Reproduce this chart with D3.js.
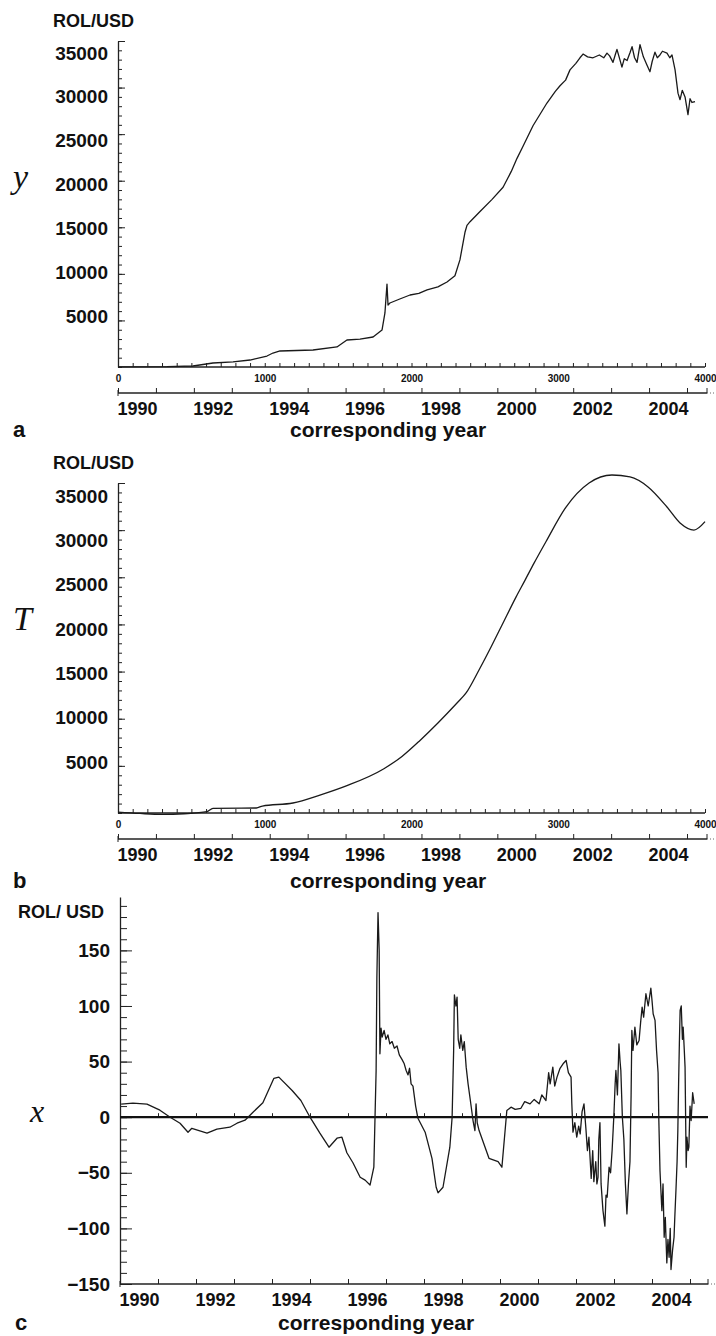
<!DOCTYPE html>
<html>
<head>
<meta charset="utf-8">
<script src="https://cdn.jsdelivr.net/npm/d3@7"></script>
<style>
  body { margin: 0; background: #fff; }
  svg text { font-family: "Liberation Sans", Arial, sans-serif; font-weight: bold; fill: #111; }
  svg text.math { font-family: "Liberation Serif", "Times New Roman", serif; font-style: italic; font-weight: normal; }
</style>
</head>
<body>
<svg id="chart" width="716" height="1336"></svg>
<script>
// ---- data ----
// panel a: observed ROL/USD rate y, x = observation index
var idxA = [0, 334, 511, 647, 784, 900, 1015, 1056, 1104, 1329, 1492, 1560, 1649, 1738, 1799, 1819, 1833, 1840, 1853, 1920, 1990, 2050, 2106, 2180, 2242, 2296, 2330, 2365, 2378, 2399, 2467, 2549, 2624, 2680, 2719, 2760, 2828, 2923, 2980, 3012, 3050, 3080, 3120, 3148, 3169, 3200, 3237, 3280, 3310, 3332, 3350, 3373, 3390, 3400, 3420, 3434, 3450, 3469, 3490, 3503, 3520, 3537, 3557, 3580, 3605, 3625, 3640, 3659, 3675, 3693, 3710, 3741, 3760, 3775, 3796, 3816, 3830, 3845, 3864, 3884, 3898, 3911, 3932];
var valA = [20, 30, 107, 430, 540, 750, 1180, 1500, 1720, 1825, 2150, 2900, 3000, 3220, 3970, 5800, 8900, 6650, 6870, 7300, 7730, 7900, 8270, 8600, 9130, 9800, 11500, 14500, 15200, 15600, 16700, 18000, 19300, 21000, 22400, 23700, 25900, 28340, 29600, 30200, 30800, 31900, 32600, 33200, 33600, 33300, 33200, 33500, 33200, 33700, 33400, 32700, 33600, 34100, 33000, 32200, 33100, 32900, 33800, 34400, 33200, 32700, 34600, 33300, 32400, 31700, 32800, 33800, 33200, 33500, 33900, 33700, 33200, 33500, 31900, 29400, 28700, 29700, 29000, 27100, 28800, 28400, 28500];

// panel b: trend T
var idxB = [0, 150, 300, 450, 606, 647, 943, 984, 1192, 1376, 1560, 1812, 1935, 2058, 2180, 2310, 2372, 2460, 2542, 2617, 2712, 2774, 2835, 2917, 3053, 3210, 3366, 3489, 3612, 3741, 3830, 3925, 4000];
var valB = [100, -50, -150, -80, 140, 500, 530, 740, 1060, 1900, 2900, 4700, 6000, 7700, 9550, 11670, 12730, 15170, 17610, 19940, 22900, 24700, 26500, 28800, 32450, 35000, 35850, 35640, 34580, 32450, 30760, 30010, 30900];

// panel c: fluctuation x = y - T, against year
var yearC = [1990.03, 1990.34, 1990.71, 1991.05, 1991.32, 1991.58, 1991.79, 1991.89, 1992.29, 1992.55, 1992.89, 1993.08, 1993.29, 1993.5, 1993.76, 1994.05, 1994.18, 1994.53, 1994.76, 1995.0, 1995.26, 1995.5, 1995.71, 1995.84, 1995.97, 1996.13, 1996.32, 1996.45, 1996.58, 1996.68, 1996.74, 1996.76, 1996.79, 1996.82, 1996.84, 1996.87, 1996.9, 1996.95, 1997.0, 1997.05, 1997.1, 1997.16, 1997.22, 1997.29, 1997.35, 1997.42, 1997.48, 1997.53, 1997.58, 1997.62, 1997.66, 1997.71, 1997.78, 1997.84, 1998.03, 1998.21, 1998.32, 1998.37, 1998.5, 1998.68, 1998.74, 1998.78, 1998.8, 1998.84, 1998.87, 1998.9, 1998.94, 1998.97, 1999.02, 1999.06, 1999.11, 1999.16, 1999.22, 1999.29, 1999.34, 1999.37, 1999.4, 1999.45, 1999.71, 1999.95, 2000.05, 2000.18, 2000.29, 2000.4, 2000.55, 2000.65, 2000.79, 2000.9, 2001.03, 2001.1, 2001.21, 2001.28, 2001.32, 2001.39, 2001.44, 2001.5, 2001.58, 2001.66, 2001.74, 2001.8, 2001.87, 2001.89, 2001.92, 2001.97, 2002.02, 2002.07, 2002.11, 2002.16, 2002.21, 2002.26, 2002.3, 2002.34, 2002.4, 2002.44, 2002.47, 2002.52, 2002.55, 2002.58, 2002.6, 2002.63, 2002.66, 2002.71, 2002.76, 2002.79, 2002.82, 2002.87, 2002.91, 2002.95, 2002.98, 2003.0, 2003.03, 2003.05, 2003.09, 2003.13, 2003.16, 2003.18, 2003.22, 2003.26, 2003.3, 2003.34, 2003.38, 2003.42, 2003.45, 2003.47, 2003.5, 2003.55, 2003.6, 2003.66, 2003.7, 2003.74, 2003.78, 2003.84, 2003.9, 2003.97, 2004.0, 2004.03, 2004.08, 2004.12, 2004.16, 2004.18, 2004.21, 2004.24, 2004.26, 2004.29, 2004.32, 2004.35, 2004.39, 2004.42, 2004.45, 2004.48, 2004.5, 2004.54, 2004.58, 2004.6, 2004.63, 2004.66, 2004.68, 2004.7, 2004.72, 2004.74, 2004.77, 2004.8, 2004.82, 2004.85, 2004.87, 2004.9, 2004.92, 2004.95, 2004.97, 2005.0, 2005.03, 2005.07, 2005.11];
var valC = [11.7, 12.6, 11.7, 6.3, 0, -5.4, -13.5, -10, -14.4, -10.8, -9, -5.4, -2.7, 4.5, 13, 35, 36, 24, 15, 0, -14.4, -27, -18.9, -18, -32, -41, -54, -56.6, -61, -45, 42, 126, 184, 150, 57, 80, 72, 78, 70, 74, 66, 68, 62, 64, 56, 52, 48, 42, 38, 44, 30, 28, 10, -1, -13.5, -37, -63, -68, -63, -27, 0, 60, 110, 100, 108, 70, 62, 74, 60, 68, 45, 30, 15, -3, -12, 12, -5, -12, -37, -40, -45, 6, 9, 7, 8, 14, 12, 16, 12, 20, 15, 40, 30, 45, 28, 36, 44, 48, 51, 40, 36, 12, -13.5, -5, -18, -8, -15, 5, 12, -10, -30, -18, -55, -30, -58, -40, -60, -54, -20, -5, -60, -84, -98, -70, -72, -45, -50, -30, -10, 4, 30, 42, 20, 66, 50, 42, 0, -20, -60, -87, -60, -40, 20, 78, 60, 81, 65, 69, 85, 99, 90, 111, 100, 116, 105, 93, 87, 60, 40, -3, -48, -70, -84, -60, -108, -90, -131, -110, -126, -100, -137, -120, -108, -90, -66, -40, -12, 30, 66, 96, 100, 70, 81, 60, 45, -45, -18, -30, -27, 10, -3, 22, 12];

// axis ticks / labels
var yearTicks = d3.range(1990, 2006);
var yearLabels = [1990, 1992, 1994, 1996, 1998, 2000, 2002, 2004];
var idxMinor = d3.range(0, 4001, 100);
var idxLabels = [0, 1000, 2000, 3000, 4000];
var rolMinor = d3.range(0, 35001, 1000);
var rolMajor = [5000, 10000, 15000, 20000, 25000, 30000, 35000];
var xMinor = d3.range(-150, 191, 10);
var xMajor = [-150, -100, -50, 0, 50, 100, 150];

var svg = d3.select('#chart');

function cleanAxis(g) {
  g.attr('font-family', null).attr('font-size', null);
  g.selectAll('line').attr('stroke', '#222');
  g.select('.domain').attr('stroke', '#222');
}

// year axis with ticks up, labels centred in each year, dotted tail
function yearAxis(xs, y, xEnd) {
  var g = svg.append('g').attr('transform', 'translate(0,' + y + ')')
    .call(d3.axisTop(xs).tickValues(yearTicks).tickSize(5).tickFormat(''));
  g.select('.domain').remove();
  cleanAxis(g);
  g.append('line').attr('x1', xs(1990)).attr('x2', xEnd).attr('stroke', '#222').attr('stroke-width', 1.5);
  g.append('line').attr('x1', xs(1990)).attr('x2', xs(1990)).attr('y1', -3).attr('y2', 3).attr('stroke', '#222');
  g.append('line').attr('x1', xEnd).attr('x2', xEnd).attr('y1', -5).attr('y2', 0).attr('stroke', '#222');
  g.append('line').attr('x1', xEnd).attr('x2', 716).attr('stroke', '#666').attr('stroke-dasharray', '1,2');
  var lab = svg.append('g').attr('transform', 'translate(0,' + y + ')')
    .call(d3.axisBottom(xs).tickValues(yearLabels.map(function(d) { return d + 0.5; }))
      .tickSize(0).tickPadding(9).tickFormat(function(d) { return Math.floor(d); }));
  lab.select('.domain').remove();
  cleanAxis(lab);
  lab.selectAll('text').style('font-size', '18px');
}

function rolPanel(top, bottom, lblTop, lblBottom, idx, vals, curve, letter, math, mathY, letterY) {
  var xi = d3.scaleLinear().domain([0, 4000]).range([118, 705]);
  var xy = d3.scaleLinear().domain([1990, 2005]).range([118, 687]);
  var ys = d3.scaleLinear().domain([0, 35000]).range([bottom, top]);
  // labels sit on their own (slightly tighter) scale, as in the scanned figure
  var yl = d3.scaleLinear().domain([5000, 35000]).range([lblBottom, lblTop]);

  svg.append('text').attr('x', 53).attr('y', top - 14).style('font-size', '18px').text('ROL/USD');

  var gMin = svg.append('g').attr('transform', 'translate(118,0)')
    .call(d3.axisRight(ys).tickValues(rolMinor).tickSize(4).tickSizeOuter(0).tickFormat(''));
  cleanAxis(gMin);
  gMin.select('.domain').attr('stroke-width', 1.3);
  var gMaj = svg.append('g').attr('transform', 'translate(118,0)')
    .call(d3.axisRight(ys).tickValues(rolMajor).tickSize(7).tickFormat(''));
  gMaj.select('.domain').remove();
  cleanAxis(gMaj);
  var gLab = svg.append('g').attr('transform', 'translate(118,0)')
    .call(d3.axisLeft(yl).tickValues(rolMajor).tickSize(0).tickPadding(10).tickFormat(d3.format('d')));
  gLab.select('.domain').remove();
  cleanAxis(gLab);
  gLab.selectAll('text').style('font-size', '19px');

  // observation index axis
  var gi = svg.append('g').attr('transform', 'translate(0,' + bottom + ')')
    .call(d3.axisTop(xi).tickValues(idxMinor).tickSize(4).tickFormat(''));
  gi.select('.domain').remove();
  cleanAxis(gi);
  gi.append('line').attr('x1', 118).attr('x2', 705).attr('stroke', '#222').attr('stroke-width', 1.5);
  var gil = svg.append('g').attr('transform', 'translate(0,' + bottom + ')')
    .call(d3.axisBottom(xi).tickValues(idxLabels).tickSize(0).tickPadding(8).tickFormat(d3.format('d')));
  gil.select('.domain').remove();
  cleanAxis(gil);
  gil.selectAll('text').style('font-size', '10px');

  yearAxis(xy, bottom + 26, 707);

  var line = d3.line().x(function(d) { return xi(d[0]); }).y(function(d) { return ys(d[1]); }).curve(curve);
  svg.append('path').datum(d3.zip(idx, vals)).attr('d', line)
    .attr('fill', 'none').attr('stroke', '#1a1a1a').attr('stroke-width', 1.3).attr('stroke-linejoin', 'round');

  svg.append('text').attr('class', 'math').attr('x', 13).attr('y', mathY).style('font-size', '34px').text(math);
  svg.append('text').attr('x', 13).attr('y', letterY).style('font-size', '22px').text(letter);
  svg.append('text').attr('x', 290).attr('y', letterY).style('font-size', '21px').text('corresponding year');
}

rolPanel(41, 367, 53, 316, idxA, valA, d3.curveLinear, 'a', 'y', 188, 437);
rolPanel(483, 813, 496, 762, idxB, valB, d3.curveMonotoneX, 'b', 'T', 630, 888);

// ---- panel c ----
(function() {
  var xs = d3.scaleLinear().domain([1990, 2005]).range([120, 690]);
  var ys = d3.scaleLinear().domain([-150, 198]).range([1284, 897]);

  svg.append('text').attr('x', 18).attr('y', 918).style('font-size', '18px').text('ROL/ USD');

  var gMin = svg.append('g').attr('transform', 'translate(120,0)')
    .call(d3.axisRight(ys).tickValues(xMinor).tickSize(7).tickSizeOuter(0).tickFormat(''));
  cleanAxis(gMin);
  gMin.select('.domain').attr('stroke-width', 1.3);
  var gMaj = svg.append('g').attr('transform', 'translate(120,0)')
    .call(d3.axisRight(ys).tickValues(xMajor).tickSize(12).tickFormat(''));
  gMaj.select('.domain').remove();
  cleanAxis(gMaj);
  var gLab = svg.append('g').attr('transform', 'translate(120,0)')
    .call(d3.axisLeft(ys).tickValues(xMajor).tickSize(0).tickPadding(10)
      .tickFormat(function(d) { return d < 0 ? '\u2212' + (-d) : d; }));
  gLab.select('.domain').remove();
  cleanAxis(gLab);
  gLab.selectAll('text').style('font-size', '19px');

  // zero line
  var gz = svg.append('g').attr('transform', 'translate(0,' + ys(0) + ')')
    .call(d3.axisTop(xs).tickValues(yearTicks).tickSize(4).tickFormat(''));
  gz.select('.domain').remove();
  cleanAxis(gz);
  gz.append('line').attr('x1', 120).attr('x2', 708).attr('stroke', '#111').attr('stroke-width', 2.2);

  yearAxis(xs, ys(-150), 708);

  var line = d3.line().x(function(d) { return xs(d[0]); }).y(function(d) { return ys(d[1]); });
  svg.append('path').datum(d3.zip(yearC, valC)).attr('d', line)
    .attr('fill', 'none').attr('stroke', '#1a1a1a').attr('stroke-width', 1.3).attr('stroke-linejoin', 'round');

  svg.append('text').attr('class', 'math').attr('x', 30).attr('y', 1122).style('font-size', '32px').text('x');
  svg.append('text').attr('x', 15).attr('y', 1330).style('font-size', '22px').text('c');
  svg.append('text').attr('x', 278).attr('y', 1330).style('font-size', '21px').text('corresponding year');
})();
</script>
</body>
</html>
